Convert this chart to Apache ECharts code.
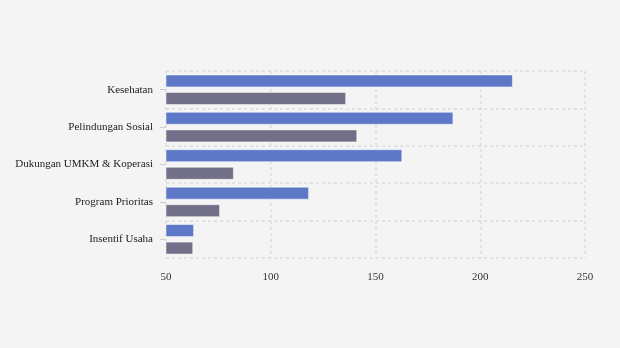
<!DOCTYPE html>
<html><head><meta charset="utf-8">
<script src="https://cdn.jsdelivr.net/npm/echarts@6/dist/echarts.min.js"></script>
<style>html,body{margin:0;padding:0;background:#f4f4f4;}#c{width:620px;height:348px;}</style>
</head><body><div id="c"></div>
<script>
var categories = ['Kesehatan', 'Pelindungan Sosial', 'Dukungan UMKM & Koperasi', 'Program Prioritas', 'Insentif Usaha'];
var seriesA = [215.6, 187.2, 162.8, 118.3, 63.4];
var seriesB = [136.0, 141.3, 82.4, 75.8, 63.0];
var xTicks = [50, 100, 150, 200, 250];

var chart = echarts.init(document.getElementById('c'));
var font = 'Liberation Serif, Times New Roman, serif';
chart.setOption({
  backgroundColor: '#f4f4f4',
  animation: false,
  grid: { left: 166, right: 35, top: 71, bottom: 90 },
  xAxis: {
    type: 'value', min: xTicks[0], max: xTicks[xTicks.length - 1], interval: 50,
    axisLine: { show: false }, axisTick: { show: false },
    axisLabel: { color: '#333', fontFamily: font, fontSize: 11, margin: 14 },
    splitLine: { show: true, lineStyle: { color: '#dcdcdc', type: [3, 3], width: 1.5 } }
  },
  yAxis: {
    type: 'category', data: categories, inverse: true,
    axisLine: { show: false },
    axisTick: { show: true, alignWithLabel: true, length: 6, lineStyle: { color: '#ccc' } },
    axisLabel: { color: '#222', fontFamily: font, fontSize: 11, margin: 13 },
    splitLine: { show: true, lineStyle: { color: '#dcdcdc', type: [3, 3], width: 1.5 } }
  },
  series: [
    { type: 'bar', data: seriesA, barWidth: 13, barGap: '35%',
      itemStyle: { color: '#5e78c8', borderColor: 'rgba(255,255,255,0.5)', borderWidth: 1 } },
    { type: 'bar', data: seriesB, barWidth: 13, barGap: '35%',
      itemStyle: { color: '#727089', borderColor: 'rgba(255,255,255,0.5)', borderWidth: 1 } }
  ]
});
</script></body></html>
